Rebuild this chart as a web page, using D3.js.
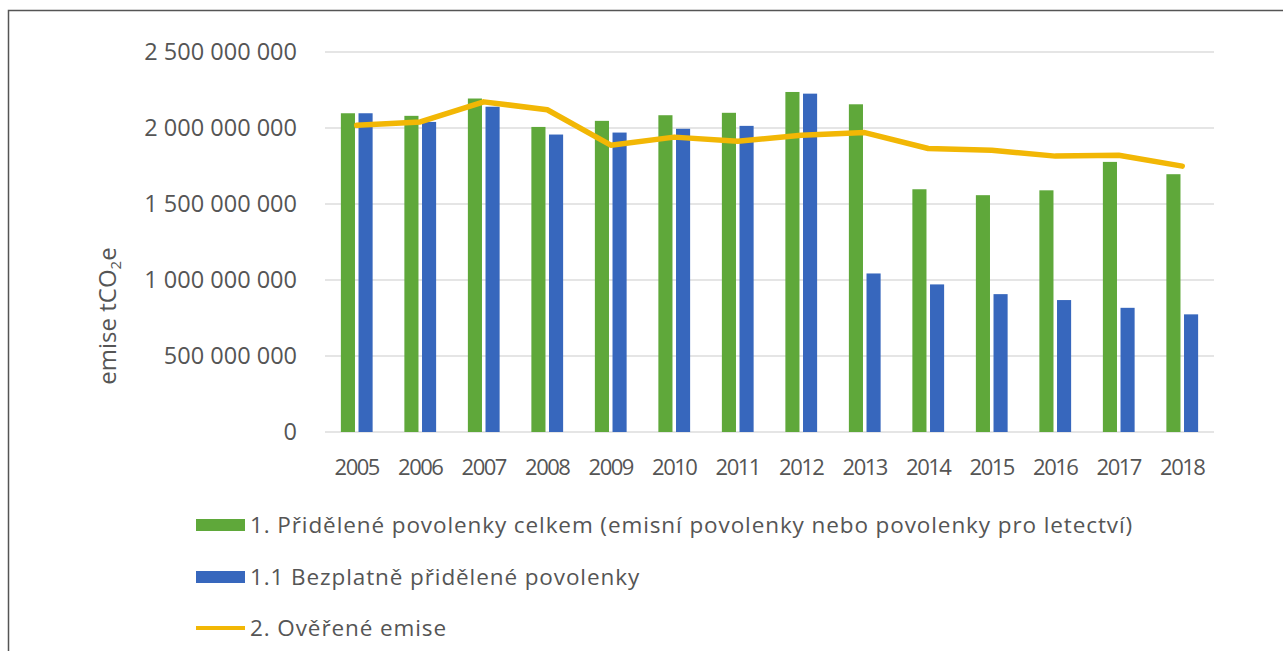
<!DOCTYPE html>
<html><head><meta charset="utf-8">
<script src="https://cdn.jsdelivr.net/npm/d3@7"></script>
<style>
html,body{margin:0;padding:0;background:#fff;}
svg{display:block;}
text{font-family:"Open Sans","Noto Sans",sans-serif;fill:#555;}
</style></head>
<body>
<svg id="c" width="1283" height="651"></svg>
<script>
const years = ["2005","2006","2007","2008","2009","2010","2011","2012","2013","2014","2015","2016","2017","2018"];
const allocatedTotal = [2097e6,2080e6,2194e6,2007e6,2047e6,2084e6,2100e6,2237e6,2156e6,1597e6,1558e6,1590e6,1777e6,1696e6];
const allocatedFree = [2097e6,2040e6,2140e6,1957e6,1970e6,1995e6,2014e6,2226e6,1043e6,971e6,907e6,868e6,817e6,774e6];
const verifiedEmissions = [2018e6,2040e6,2172e6,2120e6,1887e6,1940e6,1913e6,1953e6,1970e6,1865e6,1854e6,1815e6,1821e6,1749e6];
const yTicks = [0,500000000,1000000000,1500000000,2000000000,2500000000];
const yTickLabels = ["0","500 000 000","1 000 000 000","1 500 000 000","2 000 000 000","2 500 000 000"];
const seriesNames = ["1. Přidělené povolenky celkem (emisní povolenky nebo povolenky pro letectví)","1.1 Bezplatně přidělené povolenky","2. Ověřené emise"];
const colors = {green:"#5FA83A", blue:"#3767BD", gold:"#F2B705"};

const svg = d3.select("#c");
// frame
svg.append("path").attr("d","M8.5,652 L8.5,10.5 L1290,10.5").attr("fill","none").attr("stroke","#555").attr("stroke-width",1.5);

const pl=325, pr=1214, pt=52, pb=432;
const y = d3.scaleLinear().domain([0,2500000000]).range([pb,pt]);
const x = d3.scaleBand().domain(years).range([pl,pr]).paddingInner(0.5).paddingOuter(0.25);
const x1 = d3.scaleBand().domain(["total","free"]).range([0,x.bandwidth()]).paddingInner(0.2);

// gridlines
svg.append("g").selectAll("line").data(yTicks).join("line")
  .attr("x1",pl).attr("x2",pr).attr("y1",d=>y(d)).attr("y2",d=>y(d))
  .attr("stroke","#dcdcdc").attr("stroke-width",1.5);

// y tick labels
svg.append("g").selectAll("text").data(yTicks).join("text")
  .attr("x",297).attr("y",d=>y(d)).attr("dy","0.36em").attr("text-anchor","end")
  .attr("font-size",23.5).text((d,i)=>yTickLabels[i]);

// y title
const yt = svg.append("text").attr("transform","translate(116,316) rotate(-90)")
  .attr("text-anchor","middle").attr("font-size",24);
yt.append("tspan").text("emise tCO");
yt.append("tspan").attr("font-size",15).attr("dy",5).text("2");
yt.append("tspan").attr("dy",-5).text("e");

// bars
const g = svg.append("g");
g.selectAll("rect.t").data(years).join("rect").attr("class","t")
  .attr("x",d=>x(d)+x1("total")).attr("width",x1.bandwidth())
  .attr("y",(d,i)=>y(allocatedTotal[i])).attr("height",(d,i)=>y(0)-y(allocatedTotal[i]))
  .attr("fill",colors.green);
g.selectAll("rect.f").data(years).join("rect").attr("class","f")
  .attr("x",d=>x(d)+x1("free")).attr("width",x1.bandwidth())
  .attr("y",(d,i)=>y(allocatedFree[i])).attr("height",(d,i)=>y(0)-y(allocatedFree[i]))
  .attr("fill",colors.blue);

// line
const line = d3.line().x((d,i)=>x(years[i])+x.bandwidth()/2).y(d=>y(d));
svg.append("path").datum(verifiedEmissions).attr("d",line)
  .attr("fill","none").attr("stroke",colors.gold).attr("stroke-width",5.5)
  .attr("stroke-linejoin","round").attr("stroke-linecap","round");

// x labels
svg.append("g").selectAll("text").data(years).join("text")
  .attr("x",d=>x(d)+x.bandwidth()/2).attr("y",467).attr("dy","0.36em")
  .attr("text-anchor","middle").attr("font-size",22).attr("letter-spacing",-1.5).text(d=>d);

// legend
const lg = svg.append("g");
const rows = [525,577,628];
lg.append("rect").attr("x",196).attr("y",rows[0]-6).attr("width",49).attr("height",12).attr("fill",colors.green);
lg.append("rect").attr("x",196).attr("y",rows[1]-6).attr("width",49).attr("height",12).attr("fill",colors.blue);
lg.append("line").attr("x1",196).attr("x2",245).attr("y1",rows[2]).attr("y2",rows[2]).attr("stroke",colors.gold).attr("stroke-width",4);
lg.selectAll("text").data(seriesNames).join("text")
  .attr("x",250).attr("y",(d,i)=>rows[i]).attr("dy","0.36em").attr("font-size",22.5).attr("letter-spacing",0.9).text(d=>d);
</script>
</body></html>
